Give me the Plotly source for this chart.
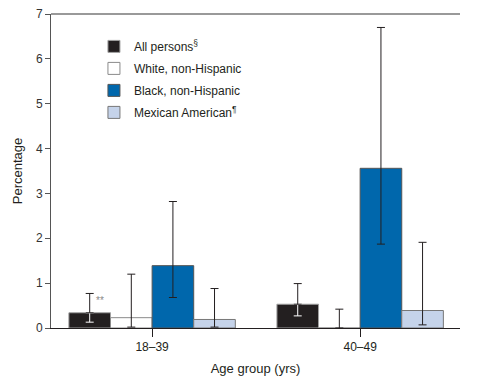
import plotly.graph_objects as go

groups = ["18–39", "40–49"]
series_names = ["All persons<sup>§</sup>", "White, non-Hispanic", "Black, non-Hispanic", "Mexican American<sup>¶</sup>"]
all_persons = [0.34, 0.53]
all_hi = [0.77, 0.99]
all_lo = [0.13, 0.27]
white = [0.23, 0.0]
white_hi = [1.20, 0.42]
white_lo = [0.02, 0.0]
black = [1.39, 3.56]
black_hi = [2.82, 6.70]
black_lo = [0.68, 1.87]
mexican = [0.19, 0.39]
mexican_hi = [0.88, 1.91]
mexican_lo = [0.02, 0.07]

fills = ["#231f20", "#ffffff", "#0067ac", "#c5d3ea"]
outlines = ["#a0a0a0", "#8a8a8a", "#555555", "#777777"]
ink = "#231f20"

def up(v, hi):
    return [h - x for x, h in zip(v, hi)]

def down(v, lo):
    return [x - l for x, l in zip(v, lo)]

fig = go.Figure()
data = [(all_persons, all_hi, all_lo), (white, white_hi, white_lo),
        (black, black_hi, black_lo), (mexican, mexican_hi, mexican_lo)]
for i, (v, hi, lo) in enumerate(data):
    eb = dict(type="data", symmetric=False, array=up(v, hi), arrayminus=down(v, lo),
              color=ink, thickness=1, width=4)
    if i == 0:
        eb = dict(visible=False)
    fig.add_trace(go.Bar(
        x=groups, y=v, name=series_names[i], offsetgroup=str(i), legendgroup=str(i),
        marker=dict(color=fills[i], line=dict(color=outlines[i], width=1)),
        error_y=eb))
    if i == 0:
        # white part of the error bar inside the dark bar
        fig.add_trace(go.Bar(
            x=groups, y=v, offsetgroup="0", showlegend=False, hoverinfo="skip",
            marker=dict(color="rgba(0,0,0,0)", line=dict(width=0)),
            error_y=dict(type="data", symmetric=False, array=[0, 0], arrayminus=down(v, lo),
                         color="#ffffff", thickness=1, width=4)))
        # dark upper part
        fig.add_trace(go.Bar(
            x=groups, y=v, offsetgroup="0", showlegend=False, hoverinfo="skip",
            marker=dict(color="rgba(0,0,0,0)", line=dict(width=0)),
            error_y=dict(type="data", symmetric=False, array=up(v, hi), arrayminus=[0, 0],
                         color=ink, thickness=1, width=4)))

fig.add_annotation(x=groups[0], y=0.62, xref="x", yref="y", text="**", showarrow=False,
                   xshift=-52, font=dict(size=10, color="#888888"))

fig.add_shape(type="line", xref="paper", yref="paper", x0=0, x1=1, y0=1, y1=1,
              line=dict(color="#999999", width=2))

fig.update_layout(
    width=479, height=375,
    margin=dict(l=43, r=27, t=6, b=55, autoexpand=False),
    paper_bgcolor="white", plot_bgcolor="white",
    barmode="group", bargap=0.2, bargroupgap=0,
    font=dict(family="Liberation Sans, Arial, sans-serif", size=12, color="#333333"),
    showlegend=True,
    legend=dict(x=0.105, y=0.943, xanchor="left", yanchor="top", bgcolor="rgba(0,0,0,0)",
                tracegroupgap=3, font=dict(size=12, color="#231f20")),
    xaxis=dict(range=[-0.486, 1.48], showline=True, linecolor=ink, linewidth=1, automargin=False,
               ticks="outside", ticklen=8, tickcolor=ink, showgrid=False,
               title=dict(text="Age group (yrs)", font=dict(size=13, color="#231f20"), standoff=10),
               tickfont=dict(size=12, color="#231f20")),
    yaxis=dict(range=[0, 7], dtick=1, showline=True, linecolor="#555555", linewidth=1, automargin=False,
               ticks="outside", ticklen=5, tickcolor="#555555", showgrid=False, zeroline=False,
               ticklabeloverflow="allow",
               title=dict(text="Percentage", font=dict(size=13, color="#231f20"), standoff=10),
               tickfont=dict(size=12, color="#333333")),
)

fig.write_html("out.html")
